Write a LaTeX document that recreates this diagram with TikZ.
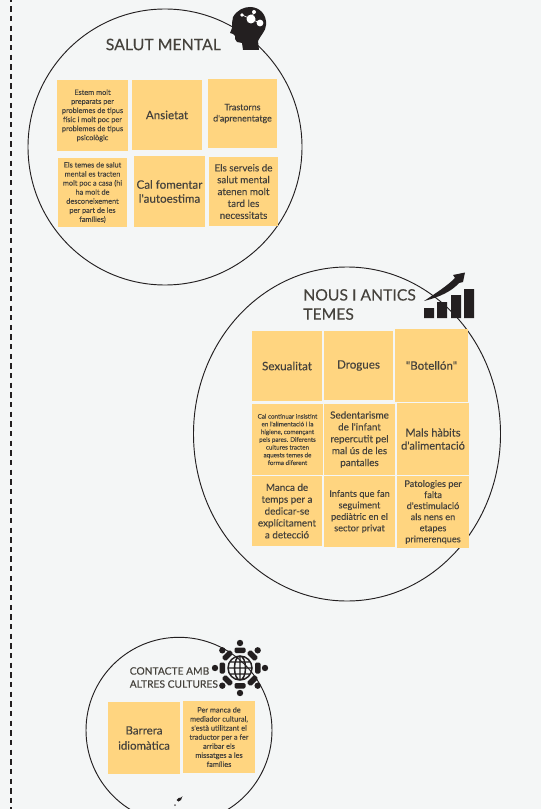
\documentclass[tikz,border=0pt]{standalone}
\usepackage{fontspec}
\defaultfontfeatures[\rmfamily]{}
\setmainfont{Lato}[RawFeature={embolden=0.08}]
\usetikzlibrary{shapes.geometric}
\definecolor{paperc}{HTML}{F4F6F6}
\definecolor{stickyc}{HTML}{FFD580}
\definecolor{inkc}{HTML}{45423C}
\definecolor{iconc}{HTML}{231F20}
\begin{document}
\begin{tikzpicture}[x=0.75pt,y=-0.75pt]
    %styles
    \tikzstyle{blob}=[ellipse,draw=iconc,line width=0.7pt,inner sep=0pt]
    \tikzstyle{sticky}=[rectangle,fill=stickyc,text=inkc,align=center,inner sep=0pt,minimum size=71*0.75pt]
    \tikzstyle{title}=[anchor=west,align=left,inner sep=0pt,text=inkc]
    \tikzstyle{fbig}=[font=\fontsize{8.7}{10.5}\selectfont]
    \tikzstyle{fmid}=[font=\fontsize{7.4}{8.9}\selectfont]
    \tikzstyle{fsma}=[font=\fontsize{5.5}{6.8}\selectfont]
    \tikzstyle{ftin}=[font=\fontsize{4.7}{5.8}\selectfont]
    %page
    \clip[use as bounding box] (0,0) rectangle (541,809);
    \fill[paperc] (0,0) rectangle (541,809);
    \coordinate (railtop) at (11,-3.4);
    \coordinate (railend) at (11,812);
    \draw[iconc,line width=2.2pt,dash pattern=on 4pt off 3.24pt] (railtop)--(railend);
    %circles
    \node[blob,minimum width=274*0.75pt,minimum height=276*0.75pt] (salut) at (165,147) {};
    \node[blob,minimum width=307*0.75pt,minimum height=334*0.75pt] (nous) at (347,434) {};
    \node[blob,minimum width=186*0.75pt,minimum height=186*0.75pt] (contacte) at (179,730.3) {};
    %salut mental
    \node[title,font=\fontsize{11.9}{13}\selectfont] (titsalut) at (105.5,44.5) {SALUT MENTAL};
    \node[sticky,fsma] (estem) at (92.5,115.5) {Estem molt\\preparats per\\problemes de tipus\\físic i molt poc per\\problemes de tipus\\psicològic};
    \node[sticky,fbig,minimum size=70*0.75pt] (ansi) at (167,115) {Ansietat};
    \node[sticky,font=\fontsize{6.7}{8.4}\selectfont,minimum size=69*0.75pt] (tras) at (242.5,113.5) {Trastorns\\d'aprenentatge};
    \node[sticky,fsma,minimum size=69*0.75pt] (temes) at (92.5,192.5) {Els temes de salut\\mental es tracten\\molt poc a casa (hi\\ha molt de\\desconeixement\\per part de les\\famílies)};
    \node[sticky,fbig] (cal) at (169.5,191.5) {Cal fomentar\\l'autoestima};
    \node[sticky,fmid,minimum size=69*0.75pt] (serv) at (243.5,191.5) {Els serveis de\\salut mental\\atenen molt\\tard les\\necessitats};
    %nous i antics temes
    \node[title,font=\fontsize{11.8}{14.4}\selectfont] (titnous) at (303,304.5) {NOUS I ANTICS\\TEMES};
    \node[sticky,fbig,minimum size=70*0.75pt] (sex) at (287,366) {Sexualitat};
    \node[sticky,fbig,minimum size=69*0.75pt] (drog) at (358.5,365.5) {Drogues};
    \node[sticky,fbig,minimum size=73*0.75pt] (bot) at (431.5,365.5) {"Botellón"};
    \node[sticky,ftin] (conti) at (287.5,439.5) {Cal continuar insistint\\en l'alimentació i la\\higiene, començant\\pels pares. Diferents\\cultures tracten\\aquests temes de\\forma diferent};
    \node[sticky,fmid] (sed) at (359.5,439.5) {Sedentarisme\\de l'infant\\repercutit pel\\mal ús de les\\pantalles};
    \node[sticky,font=\fontsize{8.3}{9.8}\selectfont,minimum size=72*0.75pt] (mals) at (433,439) {Mals hàbits\\d'alimentació};
    \node[sticky,fmid,minimum size=70*0.75pt] (manca) at (287,511) {Manca de\\temps per a\\dedicar-se\\explícitament\\a detecció};
    \node[sticky,font=\fontsize{6.9}{8.6}\selectfont] (inf) at (359.5,511.5) {Infants que fan\\seguiment\\pediàtric en el\\sector privat};
    \node[sticky,font=\fontsize{6.9}{8.3}\selectfont,minimum size=72*0.75pt] (pato) at (433,512) {Patologies per\\falta\\d'estimulació\\als nens en\\etapes\\primerenques};
    %contacte
    \node[title,font=\fontsize{7.7}{9.8}\selectfont] (titcont) at (129.5,677.5) {CONTACTE AMB\\ALTRES CULTURES};
    \node[sticky,font=\fontsize{8.6}{11.4}\selectfont,minimum size=72*0.75pt] (barr) at (144,738) {Barrera\\idiomàtica};
    \node[sticky,fsma,minimum size=72*0.75pt] (medi) at (219,737) {Per manca de\\mediador cultural,\\s'està utilitzant el\\traductor per a fer\\arribar els\\missatges a les\\famílies};
    %head
    \fill[iconc] (233,17) .. controls (237,10) and (244,7) .. (250,7) .. controls (260,7) and (267,15) .. (266,25)
        .. controls (266,31) and (260,36) .. (258,41) -- (259,50) -- (243,50) -- (242,43) -- (237,42)
        .. controls (235,41) and (235,38) .. (235,36) -- (233,34) -- (230,33) -- (232,28) -- (232,23) -- cycle;
    \draw[white,line width=0.5pt] (242,15)--(251,19)--(254,12) (251,19)--(260,23);
    \fill[white] (242,15) circle (1.8) (254,12) circle (2) (251,19) circle (4.5) (260,23) circle (3.4);
    %chart
    \fill[iconc] (424,308) rectangle (434,318) (437,302) rectangle (447,318)
        (451,295) rectangle (461,318) (464,289) rectangle (474,318);
    \fill[iconc] (424,301) .. controls (436,293) and (447,286) .. (455,278) -- (453,275) -- (465,272.5) -- (463,282)
        -- (459,283) .. controls (452,291) and (440,297) .. (424,301) -- cycle;
    %globe
    \draw[iconc,line width=1.1pt] (240,668) circle (12) (240,668) ellipse (5.5 and 12)
        (240,656)--(240,680) (228,668)--(252,668) (229.6,662)--(250.4,662) (229.6,674)--(250.4,674);
    \foreach \ang in {0,45,...,315}{
        \begin{scope}[shift={(240,668)},rotate=\ang]
            \fill[iconc] (25,0) circle (3.2);
            \fill[iconc,rounded corners=1pt] (15,-5.5) rectangle (20.5,5.5);
        \end{scope}
    }
    %stray mark
    \fill[iconc] (176.5,800) -- (178.5,798) -- (181,797.5) -- (182.5,796) -- (181,800) -- (178.5,801.5) -- cycle;
    \fill[iconc!70] (175,805) circle (1);
\end{tikzpicture}
\end{document}
